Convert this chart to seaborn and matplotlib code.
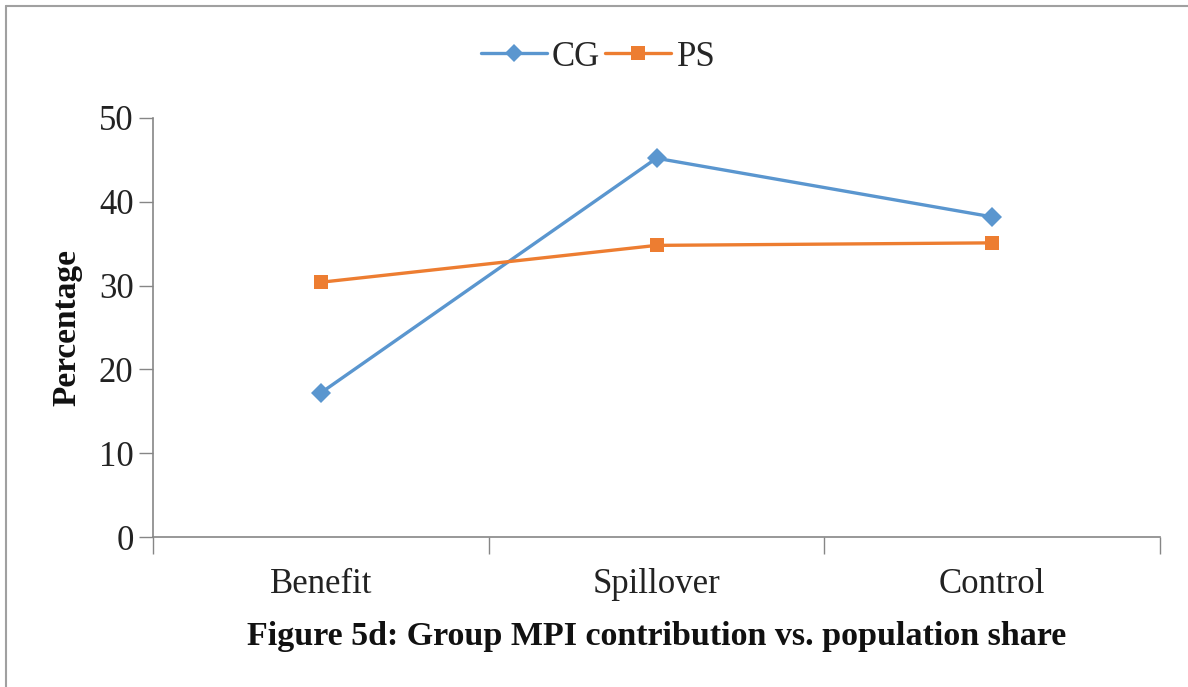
import matplotlib
matplotlib.use("Agg")
import matplotlib.pyplot as plt
import seaborn as sns
import pandas as pd
from matplotlib.lines import Line2D

groups = ["Benefit", "Spillover", "Control"]
cg_values = [17.2, 45.2, 38.2]
ps_values = [30.4, 34.8, 35.1]
y_ticks = [0, 10, 20, 30, 40, 50]

df = pd.DataFrame({
    "Group": groups * 2,
    "Percentage": cg_values + ps_values,
    "Series": ["CG"] * 3 + ["PS"] * 3,
})

sns.set_theme(style="white")
plt.rcParams["font.family"] = ["Liberation Serif", "DejaVu Serif"]

fig = plt.figure(figsize=(11.88, 6.87), dpi=100)
ax = fig.add_axes([153 / 1188, 1 - 537 / 687, (1160 - 153) / 1188, (537 - 118) / 687])

pos = {g: i for i, g in enumerate(groups)}
df["x"] = df["Group"].map(pos)
sns.lineplot(data=df, x="x", y="Percentage", hue="Series", style="Series",
             palette={"CG": "#5A96CF", "PS": "#ED7D31"},
             markers={"CG": "D", "PS": "s"}, dashes=False,
             linewidth=2.4, markersize=10, markeredgewidth=0, ax=ax, legend=False)

ax.set_xlim(-0.5, 2.5)
ax.set_ylim(0, 50)
ax.set_yticks(y_ticks)
ax.set_xticks([-0.5, 0.5, 1.5, 2.5])
ax.set_xticklabels([])
ax.set_xticks(range(3), minor=True)
ax.set_xticklabels(groups, minor=True)
ax.tick_params(axis="x", which="major", length=12, width=1, color="#868686", direction="out", bottom=True)
ax.tick_params(axis="x", which="minor", length=0, labelsize=25, pad=22, colors="#222222")
ax.tick_params(axis="y", length=10, width=1, color="#868686", direction="out", left=True,
               labelsize=25, pad=4, labelcolor="#222222")
for side in ["top", "right"]:
    ax.spines[side].set_visible(False)
for side in ["left", "bottom"]:
    ax.spines[side].set_color("#868686")
    ax.spines[side].set_linewidth(1.2)
ax.set_xlabel("")
ax.set_ylabel("Percentage", fontsize=24, fontweight="bold", labelpad=12, color="#111111")
ax.grid(False)

handles = [Line2D([], [], color="#5A96CF", marker="D", markersize=9, linewidth=2.4, markeredgewidth=0),
           Line2D([], [], color="#ED7D31", marker="s", markersize=10, linewidth=2.4, markeredgewidth=0)]
fig.legend(handles, ["CG", "PS"], loc="center", bbox_to_anchor=(598 / 1188, 1 - 57 / 687),
           ncol=2, frameon=False, fontsize=25, handlelength=1.9, columnspacing=0.15, handletextpad=0.15)

fig.text(657 / 1188, 1 - 637 / 687, "Figure 5d: Group MPI contribution vs. population share",
         ha="center", va="center", fontsize=24.5, fontweight="bold", color="#111111")

fig.add_artist(Line2D([6 / 1188, 6 / 1188], [0, 1 - 6 / 687], transform=fig.transFigure, color="#a0a0a0", lw=1.5))
fig.add_artist(Line2D([6 / 1188, 1], [1 - 6 / 687, 1 - 6 / 687], transform=fig.transFigure, color="#a0a0a0", lw=1.5))

fig.savefig("out.png", dpi=100)
